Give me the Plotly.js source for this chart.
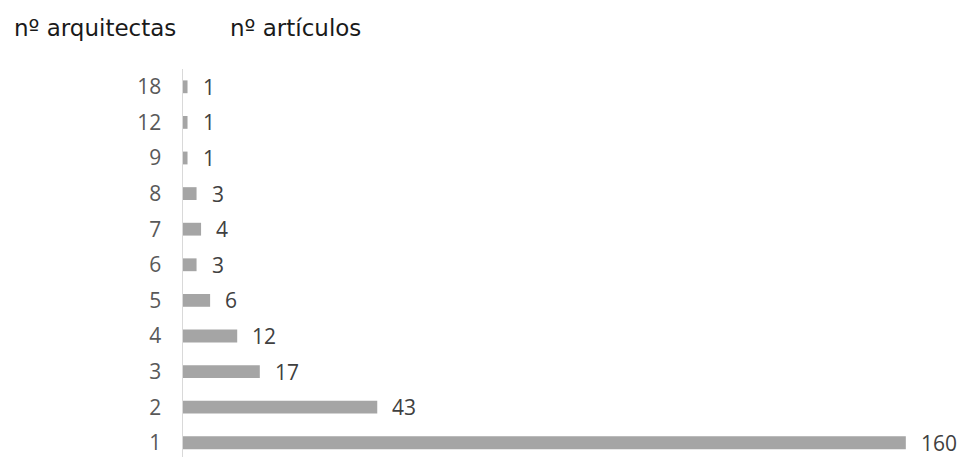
<!DOCTYPE html>
<html>
<head>
<meta charset="utf-8">
<script src="https://cdn.plot.ly/plotly-3.0.1.min.js"></script>
<style>html,body{margin:0;padding:0;background:#fff;}#chart{width:960px;height:457px;}</style>
</head>
<body>
<div id="chart"></div>
<script>
const categories = ["1","2","3","4","5","6","7","8","9","12","18"];
const articulos = [160,43,17,12,6,3,4,3,1,1,1];
const headerLeft = "nº arquitectas";
const headerRight = "nº artículos";

const labelAnnotations = categories.map((c, i) => ({
  x: articulos[i], y: i, xref: "x", yref: "y",
  text: String(articulos[i]), showarrow: false,
  xanchor: "left", yanchor: "middle", xshift: 13,
  font: {family: "Open Sans", size: 21, color: "#404040"}
}));

const trace = {
  type: "bar", orientation: "h",
  x: articulos, y: categories,
  marker: {color: "#a5a5a5"},
  width: 0.36,
  hoverinfo: "none"
};

const layout = {
  width: 960, height: 457,
  margin: {l: 183, r: 9, t: 69, b: 0, pad: 0},
  paper_bgcolor: "#fff", plot_bgcolor: "#fff",
  showlegend: false,
  xaxis: {range: [0, 170], visible: false, fixedrange: true},
  yaxis: {
    type: "category", categoryorder: "array", categoryarray: categories,
    range: [-0.4, 10.5],
    showline: true, linecolor: "#d9d9d9", linewidth: 1.5,
    showgrid: false, zeroline: false,
    ticks: "outside", ticklen: 16, tickcolor: "rgba(0,0,0,0)",
    tickfont: {family: "Open Sans", size: 21, color: "#595959"}
  },
  annotations: [
    {xref: "paper", yref: "paper", x: -0.2227, y: 1.1057, xanchor: "left", yanchor: "middle",
     text: headerLeft, showarrow: false, font: {family: "DejaVu Sans", size: 23, color: "#1a1a1a"}},
    {xref: "paper", yref: "paper", x: 0.0586, y: 1.1057, xanchor: "left", yanchor: "middle",
     text: headerRight, showarrow: false, font: {family: "DejaVu Sans", size: 23, color: "#1a1a1a"}}
  ].concat(labelAnnotations)
};

Plotly.newPlot("chart", [trace], layout, {staticPlot: true, displayModeBar: false});
</script>
</body>
</html>
